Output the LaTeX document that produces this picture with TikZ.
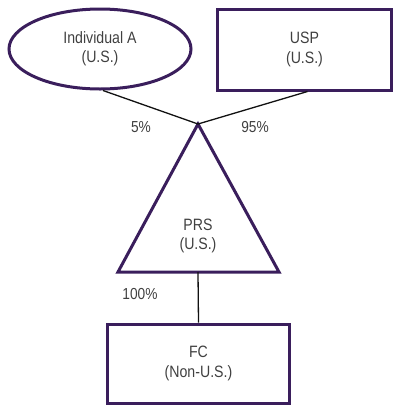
\documentclass[tikz,border=0pt]{standalone}
\usepackage{fontspec}
\setmainfont{Liberation Sans}[FakeStretch=0.86]
\usetikzlibrary{shapes.geometric,positioning,calc}
\definecolor{orgPurple}{HTML}{3A1E5C}
\definecolor{orgText}{HTML}{404040}
\definecolor{orgLine}{HTML}{111111}
\tikzset{
  ent/.style={draw=orgPurple, line width=3bp, inner sep=0pt, text=orgText, align=center, execute at begin node={\rule{0pt}{24bp}}, font=\fontsize{16.5}{19.5}\selectfont},
  entBox/.style={ent, rectangle},
  entPerson/.style={ent, ellipse},
  own/.style={draw=orgLine, line width=1.3bp},
  pct/.style={text=orgText, font=\fontsize{16}{18}\selectfont},
}
\begin{document}
\begin{tikzpicture}[x=1bp,y=-1bp]
  \useasboundingbox (0,0) rectangle (397,406);
  % owners
  \node[entPerson, minimum width=182bp, minimum height=80bp] (indA) at (100,49) {Individual A\\(U.S.)};
  \node[entBox, minimum width=173bp, minimum height=81bp] (usp) at (304.5,49.5) {USP\\(U.S.)};
  % partnership
  \coordinate (prsTop) at (198,124);
  \coordinate (prsBase) at (198,272);
  \draw[draw=orgPurple, line width=3bp, line join=miter] (prsTop) -- (118,272) -- (279,272) -- cycle;
  \node[ent, draw=none, anchor=center] (prs) at (198,236) {PRS\\(U.S.)};
  % foreign corporation
  \node[entBox, minimum width=181bp, minimum height=79bp] (fc) at (198.5,363.5) {FC\\(Non-U.S.)};
  \draw[own] ([xshift=3bp]indA.south) -- (prsTop);
  \draw[own] ([xshift=3bp]usp.south) -- (prsTop);
  \draw[own] (prsBase) -- (fc.north);
  \node[pct] (pctA) at (141,127) {5\%};
  \node[pct] (pctUsp) at (255,127) {95\%};
  \node[pct] (pctFc) at (140,294) {100\%};
\end{tikzpicture}
\end{document}
